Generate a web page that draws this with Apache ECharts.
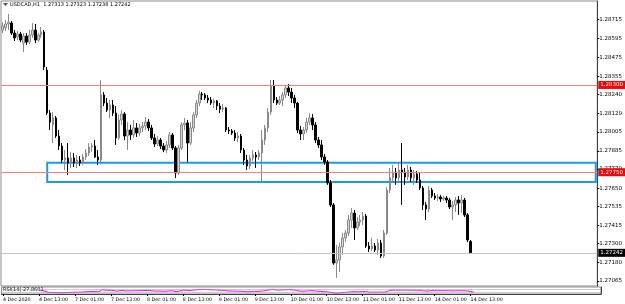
<!DOCTYPE html>
<html>
<head>
<meta charset="utf-8">
<style>
  html, body { margin: 0; padding: 0; background: #fff; }
  #chart { width: 625px; height: 304px; }
</style>
<script src="https://cdn.jsdelivr.net/npm/echarts@6/dist/echarts.min.js"></script>
</head>
<body>
<div id="chart"></div>
<script>
const symbolName = 'USDCAD,H1';

const opens = [
  1.28646, 1.28659, 1.28684, 1.28690, 1.28627, 1.28602, 1.28621, 1.28564, 1.28608, 1.28570,
  1.28615, 1.28646, 1.28583, 1.28615, 1.28633, 1.28394, 1.28123, 1.28048, 1.28092, 1.27978,
  1.27915, 1.27827, 1.27840, 1.27808, 1.27840, 1.27808, 1.27827, 1.27808, 1.27846, 1.27871,
  1.27909, 1.27915, 1.27846, 1.27827, 1.28237, 1.28186, 1.28142, 1.28174, 1.28123, 1.27966,
  1.28079, 1.28117, 1.27978, 1.28016, 1.27985, 1.28029, 1.27997, 1.28029, 1.28041, 1.28066,
  1.28029, 1.27966, 1.27928, 1.27953, 1.27915, 1.27890, 1.27922, 1.27985, 1.27903, 1.27745,
  1.27903, 1.28048, 1.28060, 1.27934, 1.28029, 1.28111, 1.28186, 1.28243, 1.28237, 1.28218,
  1.28205, 1.28186, 1.28199, 1.28167, 1.28148, 1.28155, 1.28016, 1.28010, 1.27997, 1.27966,
  1.27978, 1.27890, 1.27827, 1.27789, 1.27840, 1.27859, 1.27846, 1.27871, 1.27953, 1.28029,
  1.28129, 1.28293, 1.28205, 1.28186, 1.28205, 1.28237, 1.28281, 1.28255, 1.28218, 1.28186,
  1.28016, 1.27991, 1.28016, 1.28066, 1.28092, 1.28048, 1.27953, 1.27922, 1.27846, 1.27814,
  1.27682, 1.27544, 1.27178, 1.27197, 1.27279, 1.27336, 1.27367, 1.27449, 1.27493, 1.27399,
  1.27436, 1.27449, 1.27474, 1.27285, 1.27266, 1.27285, 1.27260, 1.27304, 1.27222, 1.27367,
  1.27638, 1.27714, 1.27751, 1.27714, 1.27764, 1.27751, 1.27720, 1.27764, 1.27714, 1.27739,
  1.27701, 1.27651, 1.27544, 1.27518, 1.27638, 1.27600, 1.27588, 1.27594, 1.27581, 1.27588,
  1.27575, 1.27531, 1.27544, 1.27575, 1.27556, 1.27575, 1.27481, 1.27313
];
const closes = [
  1.28671, 1.28684, 1.28696, 1.28627, 1.28596, 1.28621, 1.28583, 1.28608, 1.28570, 1.28615,
  1.28646, 1.28583, 1.28615, 1.28633, 1.28413, 1.28123, 1.28066, 1.28092, 1.27978, 1.27915,
  1.27827, 1.27840, 1.27808, 1.27840, 1.27808, 1.27827, 1.27808, 1.27846, 1.27871, 1.27909,
  1.27915, 1.27846, 1.27827, 1.28237, 1.28186, 1.28142, 1.28174, 1.28123, 1.27966, 1.28079,
  1.28117, 1.27978, 1.28016, 1.27985, 1.28029, 1.27997, 1.28029, 1.28041, 1.28066, 1.28029,
  1.27966, 1.27928, 1.27953, 1.27915, 1.27890, 1.27922, 1.27985, 1.27903, 1.27745, 1.27903,
  1.28048, 1.28060, 1.27934, 1.28029, 1.28111, 1.28186, 1.28243, 1.28237, 1.28218, 1.28205,
  1.28186, 1.28199, 1.28167, 1.28148, 1.28155, 1.28016, 1.28010, 1.27997, 1.27966, 1.27978,
  1.27890, 1.27827, 1.27789, 1.27840, 1.27859, 1.27846, 1.27871, 1.27953, 1.28029, 1.28129,
  1.28293, 1.28205, 1.28186, 1.28205, 1.28237, 1.28281, 1.28255, 1.28218, 1.28186, 1.28016,
  1.27991, 1.28016, 1.28066, 1.28092, 1.28048, 1.27953, 1.27922, 1.27846, 1.27814, 1.27682,
  1.27544, 1.27178, 1.27197, 1.27279, 1.27336, 1.27367, 1.27449, 1.27493, 1.27399, 1.27436,
  1.27449, 1.27474, 1.27285, 1.27266, 1.27285, 1.27260, 1.27304, 1.27222, 1.27367, 1.27638,
  1.27714, 1.27751, 1.27714, 1.27764, 1.27751, 1.27720, 1.27764, 1.27714, 1.27739, 1.27701,
  1.27651, 1.27544, 1.27518, 1.27638, 1.27600, 1.27588, 1.27594, 1.27581, 1.27588, 1.27575,
  1.27531, 1.27544, 1.27575, 1.27556, 1.27575, 1.27481, 1.27323, 1.27242
];
const lows = [
  1.28627, 1.28640, 1.28646, 1.28615, 1.28577, 1.28583, 1.28570, 1.28507, 1.28552, 1.28558,
  1.28596, 1.28564, 1.28570, 1.28596, 1.28394, 1.28111, 1.28016, 1.27934, 1.27966, 1.27890,
  1.27808, 1.27764, 1.27733, 1.27777, 1.27783, 1.27777, 1.27789, 1.27796, 1.27827, 1.27852,
  1.27877, 1.27840, 1.27796, 1.27814, 1.28167, 1.28129, 1.28092, 1.28104, 1.27922, 1.27953,
  1.28048, 1.27953, 1.27890, 1.27953, 1.27966, 1.27972, 1.27978, 1.28003, 1.28016, 1.28010,
  1.27953, 1.27909, 1.27915, 1.27896, 1.27877, 1.27871, 1.27903, 1.27890, 1.27714, 1.27733,
  1.27890, 1.28016, 1.27814, 1.27922, 1.28003, 1.28092, 1.28167, 1.28205, 1.28205, 1.28186,
  1.28174, 1.28155, 1.28142, 1.28123, 1.28129, 1.28003, 1.27991, 1.27985, 1.27947, 1.27940,
  1.27871, 1.27796, 1.27764, 1.27770, 1.27821, 1.27777, 1.27827, 1.27688, 1.27922, 1.28003,
  1.28111, 1.28186, 1.28174, 1.28174, 1.28167, 1.28218, 1.28230, 1.28186, 1.28155, 1.27997,
  1.27953, 1.27953, 1.27997, 1.28048, 1.28016, 1.27934, 1.27903, 1.27827, 1.27796, 1.27670,
  1.27531, 1.27166, 1.27084, 1.27121, 1.27229, 1.27310, 1.27348, 1.27399, 1.27323, 1.27386,
  1.27411, 1.27418, 1.27273, 1.27247, 1.27254, 1.27247, 1.27229, 1.27210, 1.27210, 1.27355,
  1.27619, 1.27688, 1.27670, 1.27688, 1.27544, 1.27670, 1.27701, 1.27688, 1.27670, 1.27682,
  1.27638, 1.27512, 1.27449, 1.27499, 1.27588, 1.27575, 1.27569, 1.27562, 1.27569, 1.27556,
  1.27518, 1.27449, 1.27499, 1.27481, 1.27493, 1.27468, 1.27310, 1.27238
];
const highs = [
  1.28696, 1.28709, 1.28747, 1.28703, 1.28646, 1.28640, 1.28633, 1.28627, 1.28627, 1.28646,
  1.28690, 1.28684, 1.28627, 1.28665, 1.28646, 1.28413, 1.28142, 1.28129, 1.28104, 1.28016,
  1.27934, 1.27890, 1.27934, 1.27877, 1.27871, 1.27859, 1.27852, 1.27865, 1.27896, 1.27934,
  1.27934, 1.27953, 1.27890, 1.28331, 1.28255, 1.28218, 1.28205, 1.28205, 1.28167, 1.28111,
  1.28142, 1.28129, 1.28066, 1.28048, 1.28079, 1.28060, 1.28054, 1.28066, 1.28098, 1.28085,
  1.28048, 1.27991, 1.27978, 1.27966, 1.27934, 1.27947, 1.28003, 1.27997, 1.27915, 1.27922,
  1.28066, 1.28092, 1.28079, 1.28066, 1.28129, 1.28205, 1.28262, 1.28255, 1.28249, 1.28237,
  1.28224, 1.28211, 1.28205, 1.28186, 1.28180, 1.28161, 1.28035, 1.28022, 1.28016, 1.28003,
  1.27991, 1.27903, 1.27859, 1.27859, 1.27890, 1.27877, 1.27890, 1.28016, 1.28048, 1.28155,
  1.28331, 1.28331, 1.28224, 1.28230, 1.28255, 1.28300, 1.28306, 1.28281, 1.28237, 1.28192,
  1.28041, 1.28035, 1.28092, 1.28123, 1.28117, 1.28066, 1.27972, 1.27953, 1.27865, 1.27827,
  1.27701, 1.27556, 1.27292, 1.27304, 1.27367, 1.27386, 1.27481, 1.27525, 1.27512, 1.27468,
  1.27481, 1.27499, 1.27487, 1.27310, 1.27336, 1.27304, 1.27329, 1.27323, 1.27386, 1.27657,
  1.27777, 1.27796, 1.27777, 1.27808, 1.27934, 1.27777, 1.27796, 1.27783, 1.27764, 1.27758,
  1.27745, 1.27663, 1.27562, 1.27663, 1.27651, 1.27619, 1.27613, 1.27607, 1.27600, 1.27600,
  1.27588, 1.27569, 1.27594, 1.27600, 1.27607, 1.27588, 1.27493, 1.27323
];

const rsiValues = [
  null, null, null, null, null, null, null, null, null, null, null, null,
  55, 52, 40, 25, 22, 22, 20, 20, 18,
  22, 22, 25, 25, 27, 27, 30, 33, 35, 35, 32, 32,
  62, 58, 52, 54, 50, 40, 47, 50, 42, 45, 44, 47,
  46, 48, 49, 51, 48, 44, 41, 43, 41, 39, 42, 47, 41,
  33, 45, 55, 56, 48, 54, 59, 63, 66,
  66, 63, 61, 58, 59, 55, 53, 53, 43, 43, 42, 40, 41,
  36, 33, 31, 36, 38, 37, 40, 45, 52, 60,
  68, 58, 56, 58, 60, 63, 60, 56, 52,
  41, 40, 42, 46, 48, 45, 39, 37, 33, 31, 25, 20,
  13, 15, 20, 24, 26, 31, 35, 30, 33, 34, 35, 27, 26, 27, 26, 29, 25,
  33, 50, 55, 57, 54, 57, 56, 54, 56, 53, 55, 52, 47, 42, 42, 50,
  48, 47, 48, 47, 47, 46, 44, 45, 47, 46, 47, 43, 34, 27.8601
];
const rsiLevels = [30, 70];

const priceTicks = [
  1.28715, 1.28595, 1.28475, 1.28355, 1.28240, 1.28120, 1.28005, 1.27885,
  1.27770, 1.27650, 1.27535, 1.27415, 1.27300, 1.27180, 1.27065
];
const levelLines = [1.28300, 1.27750];
const bidPrice = 1.27242;
const zoneTop = 1.27810;
const zoneBottom = 1.27688;
const zoneStartBar = 15;

const priceMin = 1.27033;
const priceMax = 1.28829;
const slotCount = 200;
const barCount = closes.length;

// hourly bar times, weekends skipped
const months = ['Jan','Feb','Mar','Apr','May','Jun','Jul','Aug','Sep','Oct','Nov','Dec'];
const times = [];
let t = Date.UTC(2020, 11, 4, 1);
while (times.length < slotCount) {
  const d = new Date(t);
  const wd = d.getUTCDay();
  if (wd !== 0 && wd !== 6) times.push(d);
  t += 3600000;
}
const categories = times.map((d, i) => {
  const day = d.getUTCDate() + ' ' + months[d.getUTCMonth()];
  if (i === 0) return day + ' ' + d.getUTCFullYear();
  return day + ' ' + String(d.getUTCHours()).padStart(2, '0') + ':00';
});
const showTime = (idx) => idx % 12 === 0 && idx < barCount;

const candles = opens.map((o, i) => [o, closes[i], lows[i], highs[i]]);

const smallFont = 'Tahoma, "DejaVu Sans", sans-serif';

const priceTag = (v, bg) => ({
  yAxis: v,
  label: {
    show: true, position: 'end', distance: 1, formatter: v.toFixed(5),
    backgroundColor: bg, color: '#fff', fontSize: 5.5, padding: [1, 2],
    fontFamily: smallFont,
  },
});

const chart = echarts.init(document.getElementById('chart'), null, { renderer: 'canvas' });
chart.setOption({
  animation: false,
  backgroundColor: '#ffffff',
  grid: [
    { left: 1, right: 24, top: 1, height: 285, show: true, borderColor: '#8c8c8c', borderWidth: 1 },
    { left: 1, right: 24, top: 287, height: 7, show: true, borderColor: '#8c8c8c', borderWidth: 1 },
  ],
  xAxis: [
    {
      type: 'category', gridIndex: 0, data: categories, boundaryGap: true,
      axisLine: { show: false }, axisTick: { show: false }, axisLabel: { show: false },
      splitLine: { show: false },
    },
    {
      type: 'category', gridIndex: 1, data: categories, boundaryGap: true,
      axisLine: { show: true, lineStyle: { color: '#404040', width: 1 } },
      axisTick: { show: true, alignWithLabel: true, interval: showTime, length: 2, lineStyle: { color: '#000' } },
      axisLabel: {
        show: true, interval: showTime, align: 'left', margin: 3,
        fontSize: 4.8, color: '#000', fontFamily: smallFont,
      },
      splitLine: { show: false },
    },
  ],
  yAxis: [
    {
      type: 'value', gridIndex: 0, position: 'right', min: priceMin, max: priceMax, scale: true,
      axisLine: { show: true, lineStyle: { color: '#404040', width: 1 } },
      axisTick: { show: true, customValues: priceTicks, length: 2, lineStyle: { color: '#000' } },
      axisLabel: {
        show: true, customValues: priceTicks, margin: 2, fontSize: 5.5, color: '#000',
        fontFamily: smallFont, formatter: (v) => v.toFixed(5),
      },
      splitLine: { show: false },
    },
    {
      type: 'value', gridIndex: 1, position: 'right', min: 0, max: 100,
      axisLine: { show: true, lineStyle: { color: '#404040', width: 1 } },
      axisTick: { show: false }, axisLabel: { show: false }, splitLine: { show: false },
    },
  ],
  graphic: [
    {
      type: 'polygon', left: 3, top: 3,
      shape: { points: [[0, 0], [5, 0], [2.5, 3]] },
      style: { fill: '#505050' },
    },
    {
      type: 'text', left: 10, top: 2,
      style: {
        text: symbolName + '  ' + [opens, highs, lows, closes].map((a) => a[barCount - 1].toFixed(5)).join(' '),
        fontSize: 5, fill: '#000', fontFamily: smallFont,
      },
    },
    {
      type: 'text', left: 3, top: 287.5,
      style: {
        text: 'RSI(14) ' + rsiValues[rsiValues.length - 1].toFixed(4),
        fontSize: 5, fill: '#000', fontFamily: smallFont,
      },
    },
  ],
  series: [
    {
      // horizontal levels and the bid line
      type: 'line', xAxisIndex: 0, yAxisIndex: 0, z: 1,
      data: categories.map(() => null), symbol: 'none',
      markLine: {
        silent: true, symbol: 'none', animation: false, precision: 5,
        data: [
          ...levelLines.map((v) => ({ ...priceTag(v, '#ff0000'), lineStyle: { color: '#f08080', width: 1, type: 'solid' } })),
          { ...priceTag(bidPrice, '#000000'), lineStyle: { color: '#c4c4c4', width: 1, type: 'solid' } },
        ],
      },
    },
    {
      type: 'candlestick', xAxisIndex: 0, yAxisIndex: 0, data: candles, z: 3,
      barWidth: 2,
      itemStyle: {
        color: '#d6d6d6', color0: '#000000',
        borderColor: '#8a8a8a', borderColor0: '#000000', borderWidth: 1,
      },
      markArea: {
        silent: true,
        itemStyle: { color: 'rgba(0,0,0,0)', borderColor: '#1a9be8', borderWidth: 2 },
        data: [[
          { xAxis: zoneStartBar, yAxis: zoneTop },
          { xAxis: slotCount - 1, yAxis: zoneBottom },
        ]],
      },
    },
    {
      type: 'line', xAxisIndex: 1, yAxisIndex: 1, data: rsiValues,
      symbol: 'none', lineStyle: { color: '#ff00ff', width: 1 },
      markLine: {
        silent: true, symbol: 'none', precision: 2,
        label: { show: false },
        lineStyle: { color: '#9a9a9a', width: 1, type: [1, 1] },
        data: rsiLevels.map((v) => ({ yAxis: v })),
      },
    },
  ],
});
</script>
</body>
</html>
